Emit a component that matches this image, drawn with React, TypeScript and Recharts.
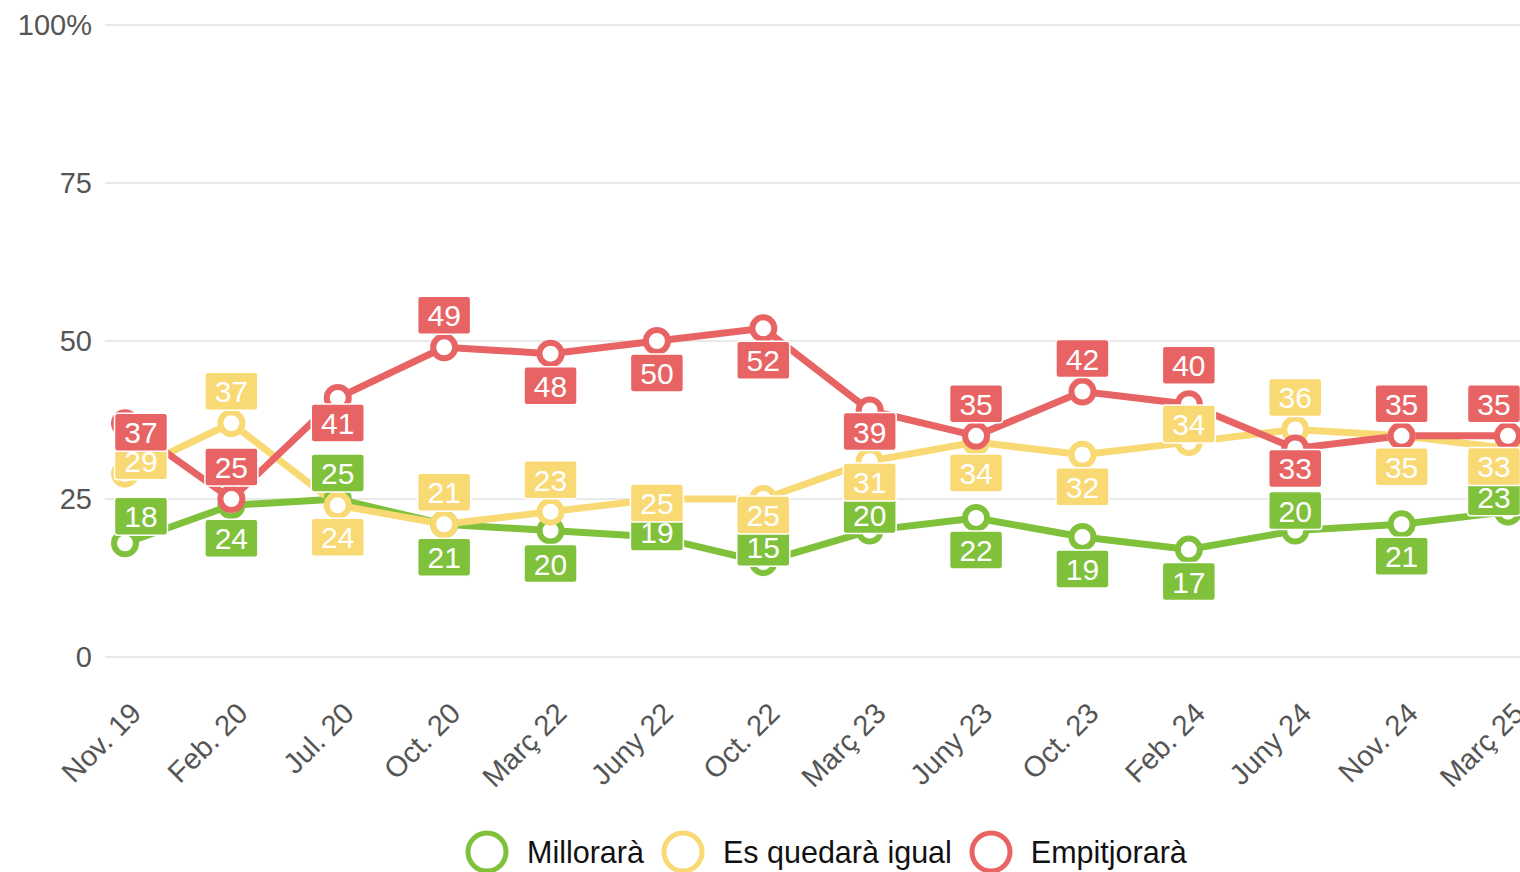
import { LineChart, Line, XAxis, YAxis, CartesianGrid, Legend, LabelList } from 'recharts';

const months = [
  'Nov. 19', 'Feb. 20', 'Jul. 20', 'Oct. 20', 'Març 22', 'Juny 22', 'Oct. 22',
  'Març 23', 'Juny 23', 'Oct. 23', 'Feb. 24', 'Juny 24', 'Nov. 24', 'Març 25',
];
const millorara = [18, 24, 25, 21, 20, 19, 15, 20, 22, 19, 17, 20, 21, 23];
const igual = [29, 37, 24, 21, 23, 25, 25, 31, 34, 32, 34, 36, 35, 33];
const empitjorara = [37, 25, 41, 49, 48, 50, 52, 39, 35, 42, 40, 33, 35, 35];
const yTicks = [0, 25, 50, 75, 100];

// label offset from the point, px (negative = above)
const greenShift = [-27, 33, -26, 33, 33, -5, -15, -16, 32, 32, 32, -20, 32, -15];
const yellowShift = [-13, -32, 32, -32, -32, 4, 16, 21, 31, 32, -18, -32, 31, 18];
const redShift = [9, -32, 25, -32, 32, 32, 32, 21, -32, -33, -39, 20, -32, -32];

const GREEN = '#7fc13b';
const YELLOW = '#f9d974';
const RED = '#e86464';
const FONT = '"Liberation Sans", Arial, sans-serif';

const data = months.map((m, i) => ({
  month: m,
  millorara: millorara[i],
  igual: igual[i],
  empitjorara: empitjorara[i],
}));

function makeLabel(color: string, shift: number[]) {
  return (props: any) => {
    const { x, y, value, index } = props;
    const cx = Math.min(Math.max(x, 141), 1494);
    const cy = y + shift[index];
    return (
      <g>
        <rect x={cx - 26.5} y={cy - 19} width={53} height={38} rx={3} fill={color} stroke="#fff" strokeWidth={1.5} />
        <text x={cx} y={cy + 11} textAnchor="middle" fill="#fff" fontSize={30} fontFamily={FONT}>
          {value}
        </text>
      </g>
    );
  };
}

function XTick(props: any) {
  const { x, payload } = props;
  const ax = x + 18;
  const ay = 715;
  return (
    <text x={ax} y={ay} transform={`rotate(-45 ${ax} ${ay})`} textAnchor="end" fill="#555" fontSize={29} fontFamily={FONT}>
      {payload.value}
    </text>
  );
}

function YTick(props: any) {
  const { y, payload } = props;
  return (
    <text x={92} y={y + 10} textAnchor="end" fill="#555" fontSize={29} fontFamily={FONT}>
      {payload.value === 100 ? '100%' : payload.value}
    </text>
  );
}

const legendItems = [
  { name: 'Millorarà', color: GREEN },
  { name: 'Es quedarà igual', color: YELLOW },
  { name: 'Empitjorarà', color: RED },
];

function LegendContent() {
  return (
    <div style={{ display: 'flex', alignItems: 'center', paddingLeft: 465, fontFamily: FONT, fontSize: 30.5, color: '#111' }}>
      {legendItems.map((it) => (
        <div key={it.name} style={{ display: 'flex', alignItems: 'center', marginRight: 17 }}>
          <svg width={44} height={44} style={{ marginRight: 18 }}>
            <circle cx={22} cy={22} r={19} fill="#fff" stroke={it.color} strokeWidth={5} />
          </svg>
          <span>{it.name}</span>
        </div>
      ))}
    </div>
  );
}

const dotStyle = (color: string) => ({ r: 11, fill: '#fff', stroke: color, strokeWidth: 6 });

export default function App() {
  return (
    <div style={{ position: 'absolute', left: 0, top: 0, width: 1520, height: 872, overflow: 'hidden', background: '#fff' }}>
      <LineChart width={1520} height={872} data={data} margin={{ top: 25, right: 0, bottom: 0, left: 0 }}>
        <CartesianGrid vertical={false} stroke="#e9e9e9" strokeWidth={2} />
        <XAxis
          dataKey="month"
          height={215}
          axisLine={false}
          tickLine={false}
          interval={0}
          padding={{ left: 20, right: 12 }}
          tick={<XTick />}
        />
        <YAxis
          width={105}
          domain={[0, 100]}
          ticks={yTicks}
          axisLine={false}
          tickLine={false}
          tick={<YTick />}
        />
        <Legend
          content={<LegendContent />}
          wrapperStyle={{ top: 830, left: 0, width: 1520, height: 0, overflow: 'visible' }}
        />
        <Line dataKey="millorara" stroke={GREEN} strokeWidth={7} dot={dotStyle(GREEN)} activeDot={false} isAnimationActive={false} />
        <Line dataKey="igual" stroke={YELLOW} strokeWidth={7} dot={dotStyle(YELLOW)} activeDot={false} isAnimationActive={false} />
        <Line dataKey="empitjorara" stroke={RED} strokeWidth={7} dot={dotStyle(RED)} activeDot={false} isAnimationActive={false} />
        <Line dataKey="millorara" stroke="none" dot={false} activeDot={false} isAnimationActive={false} legendType="none">
          <LabelList content={makeLabel(GREEN, greenShift)} />
        </Line>
        <Line dataKey="igual" stroke="none" dot={false} activeDot={false} isAnimationActive={false} legendType="none">
          <LabelList content={makeLabel(YELLOW, yellowShift)} />
        </Line>
        <Line dataKey="empitjorara" stroke="none" dot={false} activeDot={false} isAnimationActive={false} legendType="none">
          <LabelList content={makeLabel(RED, redShift)} />
        </Line>
      </LineChart>
    </div>
  );
}
